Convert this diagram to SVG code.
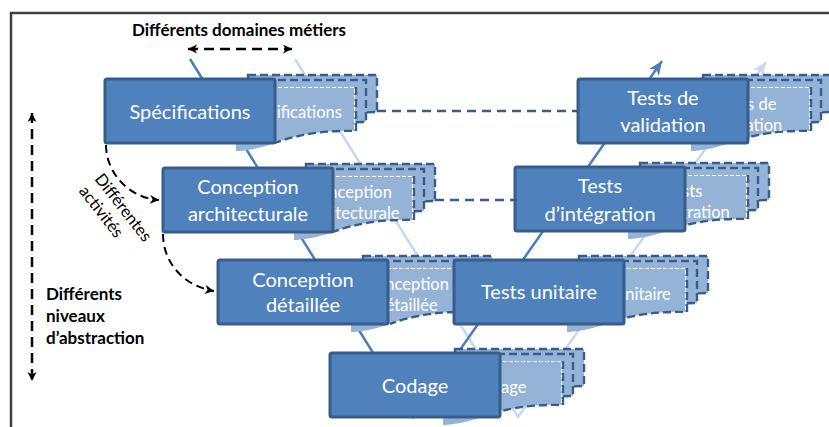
<svg xmlns="http://www.w3.org/2000/svg" width="829" height="427" viewBox="0 0 829 427">
<defs>
<style>
.frame{fill:none;stroke:#404040;stroke-width:2.5}
.box{fill:#4F81BD;stroke:#385D8A;stroke-width:3}
.doc{fill:#95B3D7;stroke:#385D8A;stroke-width:2.4;stroke-dasharray:8 4}
.docf{fill:#95B3D7;stroke:none}
.docedge{fill:none;stroke:#385D8A;stroke-width:2.4;stroke-dasharray:8 4}
.docwhite{fill:none;stroke:#FFFFFF;stroke-width:1;stroke-dasharray:4 2}
.t{font-family:Lato,"Liberation Sans",sans-serif;fill:#FFFFFF;text-anchor:middle;font-size:20px}
.ts{font-family:Lato,"Liberation Sans",sans-serif;fill:#FFFFFF;text-anchor:middle;font-size:16.5px}
.lbl{font-family:Lato,"Liberation Sans",sans-serif;fill:#000000;font-weight:bold;font-size:17px}
.act{font-family:Lato,"Liberation Sans",sans-serif;fill:#000000;font-size:16.5px}
.vdark{fill:none;stroke:#4A7EBB;stroke-width:2.5}
.vlight{fill:none;stroke:#C6D9F1;stroke-width:2.5}
.hdash{fill:none;stroke:#385D8A;stroke-width:2.5;stroke-dasharray:9 6}
.bdash{fill:none;stroke:#000000;stroke-width:2.5;stroke-dasharray:10 6}
.cdash{fill:none;stroke:#000000;stroke-width:2;stroke-dasharray:8 5}
</style>
<marker id="arrDark" markerUnits="userSpaceOnUse" markerWidth="16" markerHeight="14" refX="14" refY="6" orient="auto">
<path d="M0,0 L14,6 L0,12 L4,6 Z" fill="#4A7EBB"/>
</marker>
<marker id="arrLight" markerUnits="userSpaceOnUse" markerWidth="16" markerHeight="14" refX="14" refY="6" orient="auto">
<path d="M0,0 L14,6 L0,12 L4,6 Z" fill="#C6D9F1"/>
</marker>
<marker id="arrBlack" markerUnits="userSpaceOnUse" markerWidth="10" markerHeight="10" refX="9" refY="4.5" orient="auto-start-reverse">
<path d="M0,0 L9,4.5 L0,9 L2.5,4.5 Z" fill="#000000"/>
</marker>
</defs>
<rect x="0" y="0" width="829" height="427" fill="#FFFFFF"/>
<path class="frame" d="M11,427 V13 H829"/>

<g id="connectors">
<polyline class="vlight" points="295,59 518,417 766,62" marker-end="url(#arrLight)"/>
<polyline class="vdark" points="190,59 413,417 662,61" marker-end="url(#arrDark)"/>
<line class="hdash" x1="377" y1="111" x2="578" y2="111"/>
<line class="hdash" x1="435" y1="200" x2="515" y2="200"/>
<line class="bdash" x1="188" y1="49" x2="292" y2="49" marker-start="url(#arrBlack)" marker-end="url(#arrBlack)"/>
<line class="bdash" x1="32" y1="113" x2="32" y2="381" marker-start="url(#arrBlack)" marker-end="url(#arrBlack)"/>
<path class="cdash" d="M106,145 C106,172 128,198 159,200" marker-end="url(#arrBlack)"/>
<path class="cdash" d="M163,234 C163,262 183,286 214,291" marker-end="url(#arrBlack)"/>
</g>

<g id="labels">
<text class="lbl" x="239" y="36" text-anchor="middle">Différents domaines métiers</text>
<text class="lbl" x="46" y="300">Différents</text>
<text class="lbl" x="46" y="322">niveaux</text>
<text class="lbl" x="46" y="344">d’abstraction</text>
<g transform="translate(94,179) rotate(52)">
<text class="act" x="0" y="0">Différentes</text>
<text class="act" x="0" y="20">activités</text>
</g>
</g>

<g id="specifications">
<path class="doc" d="M248,75 H377 V112 C360,112 343,115 328,119 L248,119 Z"/>
<path class="doc" d="M254,80 H366 V122 C348,122 333,125 318,129 L254,129 Z"/>
<path class="docf" d="M236,87 H356 V131 C328,130 298,134 275,143 C258,149 243,151 236,151 Z"/>
<path class="docedge" d="M356,87 V131 C328,130 298,134 275,143"/>
<path class="docwhite" d="M236,87.5 H354.5 V129"/>
<text class="ts" x="292" y="118">Spécifications</text>
<rect class="box" x="105" y="79" width="170" height="64" rx="2"/>
<text class="t" x="190" y="119">Spécifications</text>
</g>

<g id="conception-architecturale">
<path class="doc" d="M306,164 H435 V201 C418,201 401,204 386,208 L306,208 Z"/>
<path class="doc" d="M312,169 H424 V211 C406,211 391,214 376,218 L312,218 Z"/>
<path class="docf" d="M294,176 H414 V220 C386,219 356,223 333,232 C316,238 301,240 294,240 Z"/>
<path class="docedge" d="M414,176 V220 C386,219 356,223 333,232"/>
<path class="docwhite" d="M294,176.5 H412.5 V218"/>
<text class="ts" x="350" y="198">Conception</text>
<text class="ts" x="350" y="219">architecturale</text>
<rect class="box" x="163" y="168" width="170" height="64" rx="2"/>
<text class="t" x="248" y="194">Conception</text>
<text class="t" x="248" y="221">architecturale</text>
</g>

<g id="conception-detaillee">
<path class="doc" d="M363,256 H492 V293 C475,293 458,296 443,300 L363,300 Z"/>
<path class="doc" d="M369,261 H481 V303 C463,303 448,306 433,310 L369,310 Z"/>
<path class="docf" d="M351,268 H471 V312 C443,311 413,315 390,324 C373,330 358,332 351,332 Z"/>
<path class="docedge" d="M471,268 V312 C443,311 413,315 390,324"/>
<path class="docwhite" d="M351,268.5 H469.5 V310"/>
<text class="ts" x="407" y="290">Conception</text>
<text class="ts" x="407" y="311">détaillée</text>
<rect class="box" x="218" y="260" width="170" height="64" rx="2"/>
<text class="t" x="303" y="287">Conception</text>
<text class="t" x="303" y="312">détaillée</text>
</g>

<g id="codage">
<path class="doc" d="M455,349 H584 V386 C567,386 550,389 535,393 L455,393 Z"/>
<path class="doc" d="M461,354 H573 V396 C555,396 540,399 525,403 L461,403 Z"/>
<path class="docf" d="M443,361 H563 V405 C535,404 505,408 482,417 C465,423 450,425 443,425 Z"/>
<path class="docedge" d="M563,361 V405 C535,404 505,408 482,417"/>
<path class="docwhite" d="M443,361.5 H561.5 V403"/>
<text class="ts" x="499" y="393">Codage</text>
<rect class="box" x="330" y="353" width="170" height="64" rx="2"/>
<text class="t" x="415" y="393">Codage</text>
</g>

<g id="tests-unitaire">
<path class="doc" d="M579,256 H708 V293 C691,293 674,296 659,300 L579,300 Z"/>
<path class="doc" d="M585,261 H697 V303 C679,303 664,306 649,310 L585,310 Z"/>
<path class="docf" d="M567,268 H687 V312 C659,311 629,315 606,324 C589,330 574,332 567,332 Z"/>
<path class="docedge" d="M687,268 V312 C659,311 629,315 606,324"/>
<path class="docwhite" d="M567,268.5 H685.5 V310"/>
<text class="ts" x="623" y="300">Tests unitaire</text>
<rect class="box" x="454" y="260" width="170" height="64" rx="2"/>
<text class="t" x="539" y="299">Tests unitaire</text>
</g>

<g id="tests-integration">
<path class="doc" d="M640,163 H769 V200 C752,200 735,203 720,207 L640,207 Z"/>
<path class="doc" d="M646,168 H758 V210 C740,210 725,213 710,217 L646,217 Z"/>
<path class="docf" d="M628,175 H748 V219 C720,218 690,222 667,231 C650,237 635,239 628,239 Z"/>
<path class="docedge" d="M748,175 V219 C720,218 690,222 667,231"/>
<path class="docwhite" d="M628,175.5 H746.5 V217"/>
<text class="ts" x="684" y="197">Tests</text>
<text class="ts" x="684" y="218">d’intégration</text>
<rect class="box" x="515" y="167" width="170" height="64" rx="2"/>
<text class="t" x="600" y="193">Tests</text>
<text class="t" x="600" y="221">d’intégration</text>
</g>

<g id="tests-validation">
<path class="doc" d="M703,75 H832 V112 C815,112 798,115 783,119 L703,119 Z"/>
<path class="doc" d="M709,80 H821 V122 C803,122 788,125 773,129 L709,129 Z"/>
<path class="docf" d="M691,87 H811 V131 C783,130 753,134 730,143 C713,149 698,151 691,151 Z"/>
<path class="docedge" d="M811,87 V131 C783,130 753,134 730,143"/>
<path class="docwhite" d="M691,87.5 H809.5 V129"/>
<text class="ts" x="747" y="110">Tests de</text>
<text class="ts" x="747" y="131">validation</text>
<rect class="box" x="578" y="79" width="170" height="64" rx="2"/>
<text class="t" x="663" y="105">Tests de</text>
<text class="t" x="663" y="132">validation</text>
</g>
</svg>
